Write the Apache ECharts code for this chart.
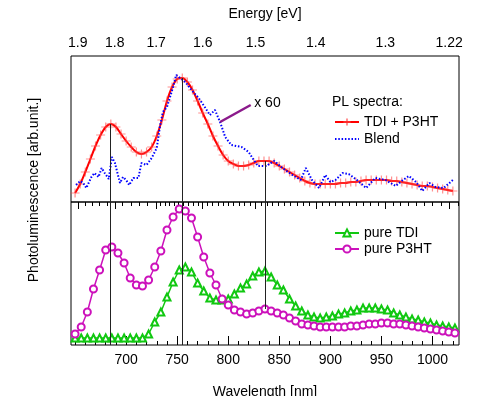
<!DOCTYPE html>
<html>
<head>
<meta charset="utf-8">
<script src="https://cdn.jsdelivr.net/npm/echarts@6/dist/echarts.min.js"></script>
<style>
html, body { margin: 0; padding: 0; background: #fff; }
#chart { width: 491px; height: 396px; }
</style>
</head>
<body>
<div id="chart"></div>
<script>
// TDI + P3HT (sum of pure spectra), every 5 nm
var redWl = [650, 655, 660, 665, 670, 675, 680, 685, 690, 695, 700, 705, 710, 715, 720, 725, 730, 735, 740, 745,
    750, 755, 760, 765, 770, 775, 780, 785, 790, 795, 800, 805, 810, 815, 820, 825, 830, 835, 840, 845,
    850, 855, 860, 865, 870, 875, 880, 885, 890, 895, 900, 905, 910, 915, 920, 925, 930, 935, 940, 945,
    950, 955, 960, 965, 970, 975, 980, 985, 990, 995, 1000, 1005, 1010, 1015, 1020];
var redVal = [9, 18, 30, 43, 56, 67, 75, 78, 75, 68, 61, 55, 50, 48, 50, 55, 66, 82, 101, 115,
    123, 124, 120, 112, 101, 89, 78, 66, 56, 47, 41, 38, 36, 36, 37, 39, 41, 41, 41, 39,
    36, 33, 30, 27, 24, 21, 19, 18, 18, 18, 18, 18, 19, 19, 20, 20, 21, 22, 22, 22,
    22, 22, 21, 21, 20, 19, 18, 17, 16, 16, 15, 14, 13, 12, 11];

// Blend (x 60), noisy
var blueWl = [651, 655, 658, 661, 666, 669, 673, 676, 679, 683, 686, 689, 694, 697, 700, 703, 707, 712, 715, 720,
    725, 730, 733, 736, 740, 743, 746, 749, 753, 758, 764, 771, 777, 782, 787, 792, 797, 803, 813, 820,
    825, 829, 833, 838, 840, 845, 853, 863, 871, 876, 882, 889, 895, 900, 905, 912, 918, 926, 935, 944,
    954, 964, 971, 977, 984, 990, 997, 1003, 1011, 1020];
var blueVal = [17, 21, 19, 14, 25, 29, 25, 34, 29, 23, 45, 39, 19, 25, 22, 17, 24, 24, 39, 37,
    44, 54, 75, 90, 95, 105, 115, 127, 124, 120, 112, 104, 95, 87, 92, 80, 65, 57, 55, 50,
    42, 36, 36, 36, 38, 41, 34, 27, 22, 34, 22, 14, 27, 20, 22, 29, 28, 22, 14, 24,
    22, 16, 22, 26, 20, 11, 19, 15, 14, 22];

// pure spectra, every 6 nm
var pureWl = [650, 656, 662, 668, 674, 680, 686, 692, 698, 704, 710, 716, 722, 728, 734, 740, 746, 752, 758, 764,
    770, 776, 782, 788, 794, 800, 806, 812, 818, 824, 830, 836, 842, 848, 854, 860, 866, 872, 878, 884,
    890, 896, 902, 908, 914, 920, 926, 932, 938, 944, 950, 956, 962, 968, 974, 980, 986, 992, 998, 1004,
    1010, 1016, 1022];
var tdiVal = [7, 7, 7, 7, 7, 7, 7, 7, 7, 7, 7, 7, 11, 23, 33, 48, 63, 75, 78, 73,
    62, 54, 47, 45, 45, 46, 51, 57, 61, 69, 73, 74, 68, 60, 55, 46, 39, 34, 30, 28,
    27, 28, 29, 31, 32, 34, 35, 37, 37, 37, 36, 35, 32, 30, 28, 26, 25, 23, 22, 20,
    19, 18, 17];
var p3htVal = [11, 18, 33, 56, 75, 95, 98, 92, 82, 67, 60, 59, 65, 78, 94, 115, 128, 136, 134, 127,
    108, 88, 72, 60, 46, 40, 35, 33, 31, 32, 34, 36, 34, 32, 30, 27, 24, 21, 20, 19,
    18, 18, 18, 18, 18, 19, 19, 20, 21, 21, 22, 22, 21, 21, 20, 19, 18, 17, 16, 15,
    14, 13, 12];

// peak guide lines
var peakWl = [684, 755, 836];
var peakTop = [78, 124, 41];
var peakLowEnd = [0, 0, 36];

// "x 60" pointer
var noteFrom = [792, 80];
var noteTo = [822, 97];

// axes
var wlMin = 646, wlMax = 1026;
var wlMajor = [700, 750, 800, 850, 900, 950, 1000];
var wlMinor = [];
for (var w = 650; w <= 1020; w += 10) {
    if (wlMajor.indexOf(w) < 0) wlMinor.push(w);
}
var eMajor = [1.9, 1.8, 1.7, 1.6, 1.5, 1.4, 1.3, 1.22];
var eMinor = [1.88, 1.86, 1.84, 1.82, 1.78, 1.76, 1.74, 1.72];
for (var k = 169; k >= 121; k--) {
    var e = k / 100;
    if (eMajor.indexOf(e) < 0) eMinor.push(e);
}
function toWl(en) { return 1240 / en; }

function pairs(xs, ys) {
    return xs.map(function (x, i) { return [x, ys[i]]; });
}

var font = 'Liberation Sans, Arial, sans-serif';
var chart = echarts.init(document.getElementById('chart'));

var gridTop = { left: 71, width: 388, top: 56, height: 146, outerBoundsMode: 'none' };
var gridBot = { left: 71, width: 388, top: 202, height: 143, outerBoundsMode: 'none' };

function baseAxis(grid, pos) {
    return {
        type: 'value', gridIndex: grid, position: pos, min: wlMin, max: wlMax,
        axisLine: { show: false }, splitLine: { show: false }
    };
}

var xTop = baseAxis(0, 'top');
xTop.name = 'Energy [eV]';
xTop.nameLocation = 'middle';
xTop.nameGap = 35;
xTop.nameTextStyle = { color: '#000', fontSize: 14, fontFamily: font };
xTop.axisTick = { inside: true, length: 7, lineStyle: { color: '#000' }, customValues: eMajor.map(toWl) };
xTop.axisLabel = {
    margin: 6, color: '#000', fontSize: 14, fontFamily: font, customValues: eMajor.map(toWl),
    formatter: function (v) { return String(Math.round(1240 / v * 100) / 100); }
};

var xBot = baseAxis(1, 'bottom');
xBot.name = 'Wavelength [nm]';
xBot.nameLocation = 'middle';
xBot.nameGap = 40;
xBot.nameTextStyle = { color: '#000', fontSize: 14, fontFamily: font };
xBot.axisTick = { inside: true, length: 9, lineStyle: { color: '#000' }, customValues: wlMajor };
xBot.axisLabel = {
    margin: 8, color: '#000', fontSize: 14, fontFamily: font, customValues: wlMajor,
    formatter: function (v) { return String(v); }
};

var xTopMinor = baseAxis(2, 'top');
xTopMinor.axisTick = { inside: true, length: 4, lineStyle: { color: '#000' }, customValues: eMinor.map(toWl) };
xTopMinor.axisLabel = { show: false, customValues: eMinor.map(toWl) };

var xBotMinor = baseAxis(3, 'bottom');
xBotMinor.axisTick = { inside: true, length: 4, lineStyle: { color: '#000' }, customValues: wlMinor };
xBotMinor.axisLabel = { show: false, customValues: wlMinor };

function hiddenY(grid, max) {
    return { type: 'value', gridIndex: grid, min: 0, max: max, show: false };
}

var guide = { color: '#222', width: 1, type: 'solid' };
var legendText = { color: '#000', fontSize: 14, fontFamily: font };

chart.setOption({
    animation: false,
    backgroundColor: '#fff',
    grid: [
        Object.assign({ show: true, borderColor: '#000', borderWidth: 1 }, gridTop),
        Object.assign({ show: true, borderColor: '#000', borderWidth: 1 }, gridBot),
        Object.assign({ show: false }, gridTop),
        Object.assign({ show: false }, gridBot)
    ],
    xAxis: [xTop, xBot, xTopMinor, xBotMinor],
    yAxis: [hiddenY(0, 146), hiddenY(1, 143), hiddenY(2, 146), hiddenY(3, 143)],
    legend: [{
        data: ['TDI + P3HT', { name: 'Blend', itemStyle: { opacity: 0 } }],
        orient: 'vertical', left: 334, top: 115,
        itemWidth: 24, itemHeight: 9, itemGap: 3, padding: 0, textStyle: legendText
    }, {
        data: ['pure TDI', 'pure P3HT'], orient: 'vertical', left: 334, top: 226,
        itemWidth: 24, itemHeight: 9, itemGap: 2, padding: 0, textStyle: legendText
    }],
    graphic: [{
        type: 'text', left: 332, top: 95,
        style: { text: 'PL spectra:', fill: '#000', font: '14px ' + font }
    }, {
        type: 'text', x: 34, y: 190, rotation: Math.PI / 2,
        style: { text: 'Photoluminescence [arb.unit.]', fill: '#000', font: '14px ' + font, align: 'center', verticalAlign: 'middle' }
    }],
    series: [{
        name: 'TDI + P3HT', type: 'line', xAxisIndex: 0, yAxisIndex: 0,
        data: pairs(redWl, redVal), smooth: 0.3,
        symbol: 'path://M5,0V10M0,5H10', symbolSize: 9,
        lineStyle: { color: '#ff0000', width: 2 },
        itemStyle: { color: '#ff0000', borderColor: 'rgba(255,70,70,0.6)', borderWidth: 1.2 },
        markLine: {
            silent: true, symbol: ['none', 'none'], label: { show: false }, lineStyle: guide,
            data: peakWl.map(function (w, i) { return [{ coord: [w, peakTop[i]] }, { coord: [w, 0] }]; })
        },
        z: 2
    }, {
        name: 'Blend', type: 'line', xAxisIndex: 0, yAxisIndex: 0,
        data: pairs(blueWl, blueVal), symbol: 'none',
        lineStyle: { color: '#0000ff', width: 2, type: [1.5, 1.8] },
        itemStyle: { color: '#0000ff' },
        markLine: {
            silent: true, symbol: ['none', 'none'],
            lineStyle: { color: '#8b1a8b', width: 2.5, type: 'solid' },
            label: { show: true, position: 'end', formatter: 'x 60', color: '#000', fontSize: 14, fontFamily: font, distance: 4 },
            data: [[{ coord: noteFrom }, { coord: noteTo }]]
        },
        z: 3
    }, {
        name: 'pure TDI', type: 'line', xAxisIndex: 1, yAxisIndex: 1,
        data: pairs(pureWl, tdiVal), symbol: 'emptyTriangle', symbolSize: 7,
        lineStyle: { color: '#11c811', width: 1.5 },
        itemStyle: { color: '#11c811', borderWidth: 1.2 },
        markLine: {
            silent: true, symbol: ['none', 'none'], label: { show: false }, lineStyle: guide,
            data: peakWl.map(function (w, i) { return [{ coord: [w, 143] }, { coord: [w, peakLowEnd[i]] }]; })
        }
    }, {
        name: 'pure P3HT', type: 'line', xAxisIndex: 1, yAxisIndex: 1,
        data: pairs(pureWl, p3htVal), symbol: 'emptyCircle', symbolSize: 7,
        lineStyle: { color: '#cc11bb', width: 1.5 },
        itemStyle: { color: '#cc11bb', borderWidth: 1.2 }
    }]
});
</script>
</body>
</html>
